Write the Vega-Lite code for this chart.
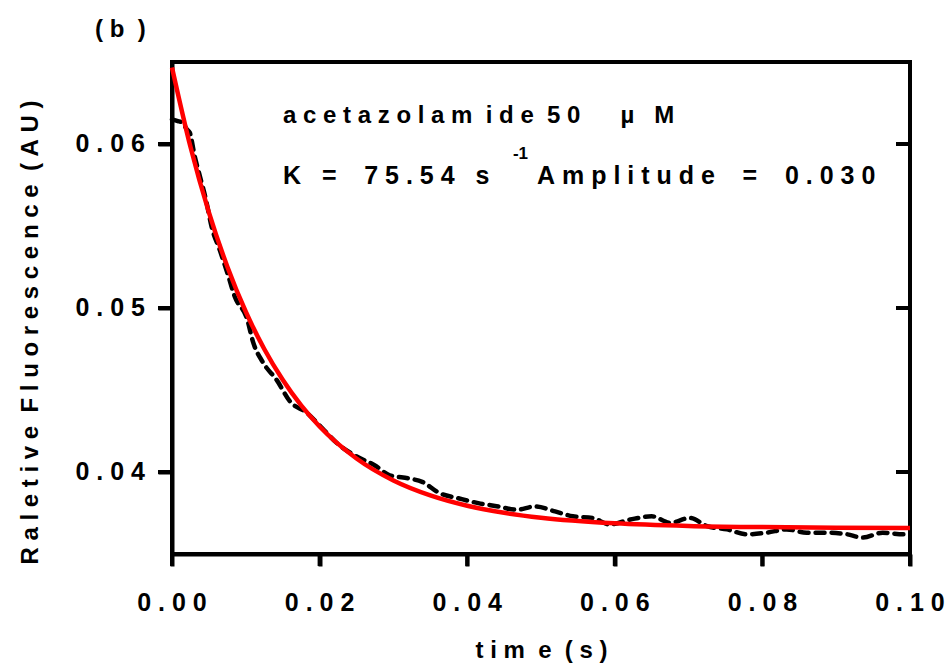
{
  "$schema": "https://vega.github.io/schema/vega-lite/v6.json",
  "width": 738,
  "height": 492,
  "autosize": {"type": "none"},
  "padding": {"left": 172, "top": 62, "right": 39, "bottom": 116},
  "background": "white",
  "config": {
    "view": {"stroke": "black", "strokeWidth": 4},
    "font": "Liberation Sans",
    "axis": {
      "grid": false,
      "ticks": true,
      "labels": false,
      "domain": true,
      "domainColor": "black",
      "domainWidth": 4,
      "tickColor": "black",
      "tickWidth": 4,
      "titleFont": "Liberation Sans",
      "titleFontWeight": "bold",
      "titleFontSize": 24,
      "titleColor": "black"
    }
  },
  "datasets": {
    "obs": [
      {"t": 0.0000, "v": 0.0615}, {"t": 0.0008, "v": 0.0614}, {"t": 0.0014, "v": 0.0613},
      {"t": 0.0020, "v": 0.0609}, {"t": 0.0024, "v": 0.0607}, {"t": 0.0031, "v": 0.0592},
      {"t": 0.0038, "v": 0.0580}, {"t": 0.0046, "v": 0.0566}, {"t": 0.0054, "v": 0.0549},
      {"t": 0.0065, "v": 0.0535}, {"t": 0.0076, "v": 0.0520}, {"t": 0.0085, "v": 0.0507},
      {"t": 0.0102, "v": 0.0493}, {"t": 0.0110, "v": 0.0479}, {"t": 0.0123, "v": 0.0467},
      {"t": 0.0142, "v": 0.0456}, {"t": 0.0160, "v": 0.0443}, {"t": 0.0183, "v": 0.0436},
      {"t": 0.0203, "v": 0.0427}, {"t": 0.0225, "v": 0.0417}, {"t": 0.0248, "v": 0.0410},
      {"t": 0.0275, "v": 0.0404}, {"t": 0.0295, "v": 0.0398}, {"t": 0.0322, "v": 0.0396},
      {"t": 0.0339, "v": 0.0394}, {"t": 0.0363, "v": 0.0387}, {"t": 0.0388, "v": 0.0384},
      {"t": 0.0415, "v": 0.0381}, {"t": 0.0442, "v": 0.0379}, {"t": 0.0467, "v": 0.0377},
      {"t": 0.0492, "v": 0.0379}, {"t": 0.0519, "v": 0.0376}, {"t": 0.0543, "v": 0.0373},
      {"t": 0.0570, "v": 0.0372}, {"t": 0.0593, "v": 0.0368}, {"t": 0.0621, "v": 0.0371},
      {"t": 0.0650, "v": 0.0373}, {"t": 0.0675, "v": 0.0369}, {"t": 0.0702, "v": 0.0372},
      {"t": 0.0725, "v": 0.0367}, {"t": 0.0752, "v": 0.0365}, {"t": 0.0779, "v": 0.0362},
      {"t": 0.0806, "v": 0.0363}, {"t": 0.0833, "v": 0.0365}, {"t": 0.0860, "v": 0.0363},
      {"t": 0.0888, "v": 0.0363}, {"t": 0.0915, "v": 0.0362}, {"t": 0.0936, "v": 0.0360},
      {"t": 0.0963, "v": 0.0363}, {"t": 0.0991, "v": 0.0362}, {"t": 0.1000, "v": 0.0362}
    ],
    "fit": [
      {"t": 0.0, "v": 0.06467}, {"t": 0.0025, "v": 0.05983}, {"t": 0.005, "v": 0.05583},
      {"t": 0.0075, "v": 0.05252}, {"t": 0.01, "v": 0.04977}, {"t": 0.0125, "v": 0.04750},
      {"t": 0.015, "v": 0.04562}, {"t": 0.0175, "v": 0.04406}, {"t": 0.02, "v": 0.04277},
      {"t": 0.025, "v": 0.04082}, {"t": 0.03, "v": 0.03948}, {"t": 0.035, "v": 0.03857},
      {"t": 0.04, "v": 0.03794}, {"t": 0.045, "v": 0.03751}, {"t": 0.05, "v": 0.03721},
      {"t": 0.06, "v": 0.03687}, {"t": 0.07, "v": 0.03671}, {"t": 0.08, "v": 0.03664},
      {"t": 0.09, "v": 0.03660}, {"t": 0.1, "v": 0.03658}
    ],
    "yticks": [
      {"v": 0.04, "label": "0\u00a0.\u00a00\u00a04"},
      {"v": 0.05, "label": "0\u00a0.\u00a00\u00a05"},
      {"v": 0.06, "label": "0\u00a0.\u00a00\u00a06"}
    ],
    "xticks": [
      {"t": 0, "label": "0\u00a0.\u00a00\u00a00"},
      {"t": 0.02, "label": "0\u00a0.\u00a00\u00a02"},
      {"t": 0.04, "label": "0\u00a0.\u00a00\u00a04"},
      {"t": 0.06, "label": "0\u00a0.\u00a00\u00a06"},
      {"t": 0.08, "label": "0\u00a0.\u00a00\u00a08"},
      {"t": 0.1, "label": "0\u00a0.\u00a01\u00a00"}
    ]
  },
  "layer": [
    {
      "data": {"name": "obs"},
      "mark": {"type": "line", "color": "black", "strokeWidth": 4.5, "strokeDash": [9, 7], "strokeCap": "round", "interpolate": "monotone"},
      "encoding": {
        "x": {"field": "t", "type": "quantitative", "scale": {"domain": [0, 0.1], "nice": false, "zero": false},
          "axis": {"orient": "bottom", "values": [0, 0.02, 0.04, 0.06, 0.08, 0.1], "ticks": true, "tickSize": 12,
            "title": "t\u00a0i\u00a0m\u00a0\u00a0e\u00a0\u00a0(\u00a0s\u00a0)", "titleY": 96, "titleBaseline": "middle"}},
        "y": {"field": "v", "type": "quantitative", "scale": {"domain": [0.035, 0.065], "nice": false, "zero": false},
          "axis": {"orient": "left", "values": [0.04, 0.05, 0.06], "ticks": true, "tickSize": 14,
            "title": "R\u00a0a\u00a0l\u00a0e\u00a0t\u00a0i\u00a0v\u00a0e\u00a0\u00a0F\u00a0l\u00a0u\u00a0o\u00a0r\u00a0e\u00a0s\u00a0c\u00a0e\u00a0n\u00a0c\u00a0e\u00a0\u00a0(\u00a0A\u00a0U\u00a0)",
            "titleX": -142, "titleY": 270, "titleAngle": 270, "titleAlign": "center", "titleBaseline": "middle"}}
      }
    },
    {
      "data": {"name": "fit"},
      "mark": {"type": "line", "color": "#ff0000", "strokeWidth": 4.5, "interpolate": "monotone"},
      "encoding": {
        "x": {"field": "t", "type": "quantitative"},
        "y": {"field": "v", "type": "quantitative"}
      }
    },
    {
      "data": {"name": "yticks"},
      "mark": {"type": "rule", "color": "black", "strokeWidth": 4},
      "encoding": {
        "x": {"datum": 0.1, "type": "quantitative"},
        "x2": {"datum": 0.0981},
        "y": {"field": "v", "type": "quantitative"}
      }
    },
    {
      "data": {"name": "yticks"},
      "mark": {"type": "rule", "color": "black", "strokeWidth": 4, "clip": false},
      "encoding": {
        "x": {"datum": 0, "type": "quantitative"},
        "x2": {"datum": -0.0019},
        "y": {"field": "v", "type": "quantitative"}
      }
    },
    {
      "data": {"name": "xticks"},
      "mark": {"type": "rule", "color": "black", "strokeWidth": 4, "clip": false},
      "encoding": {
        "x": {"field": "t", "type": "quantitative"},
        "y": {"datum": 0.035, "type": "quantitative"},
        "y2": {"datum": 0.03427}
      }
    },
    {
      "data": {"name": "yticks"},
      "mark": {"type": "text", "align": "right", "baseline": "middle", "fontSize": 25, "fontWeight": "bold", "font": "Liberation Sans", "color": "black"},
      "encoding": {
        "x": {"datum": -0.00366, "type": "quantitative"},
        "y": {"field": "v", "type": "quantitative"},
        "text": {"field": "label"}
      }
    },
    {
      "data": {"name": "xticks"},
      "mark": {"type": "text", "align": "center", "baseline": "middle", "fontSize": 25, "fontWeight": "bold", "font": "Liberation Sans", "color": "black"},
      "encoding": {
        "x": {"field": "t", "type": "quantitative"},
        "y": {"datum": 0.03201, "type": "quantitative"},
        "text": {"field": "label"}
      }
    },
    {
      "data": {"values": [{}]},
      "mark": {"type": "text", "align": "left", "baseline": "middle", "fontSize": 24, "fontWeight": "bold", "font": "Liberation Sans", "color": "black"},
      "encoding": {
        "x": {"datum": 0.01504, "type": "quantitative"},
        "y": {"datum": 0.06171, "type": "quantitative"},
        "text": {"value": "a\u00a0c\u00a0e\u00a0t\u00a0a\u00a0z\u00a0o\u00a0l\u00a0a\u00a0m\u00a0\u00a0i\u00a0d\u00a0e\u00a0\u00a05\u00a00\u00a0\u00a0\u00a0\u00a0\u00a0\u00a0µ\u00a0\u00a0\u00a0M"}
      }
    },
    {
      "data": {"values": [{}]},
      "mark": {"type": "text", "align": "left", "baseline": "middle", "fontSize": 25, "fontWeight": "bold", "font": "Liberation Sans", "color": "black"},
      "encoding": {
        "x": {"datum": 0.01504, "type": "quantitative"},
        "y": {"datum": 0.05805, "type": "quantitative"},
        "text": {"value": "K\u00a0\u00a0\u00a0=\u00a0\u00a0\u00a0\u00a07\u00a05\u00a0.\u00a05\u00a04\u00a0\u00a0\u00a0s"}
      }
    },
    {
      "data": {"values": [{}]},
      "mark": {"type": "text", "align": "left", "baseline": "middle", "fontSize": 17, "fontWeight": "bold", "font": "Liberation Sans", "color": "black"},
      "encoding": {
        "x": {"datum": 0.0462, "type": "quantitative"},
        "y": {"datum": 0.05940, "type": "quantitative"},
        "text": {"value": "-1"}
      }
    },
    {
      "data": {"values": [{}]},
      "mark": {"type": "text", "align": "left", "baseline": "middle", "fontSize": 25, "fontWeight": "bold", "font": "Liberation Sans", "color": "black"},
      "encoding": {
        "x": {"datum": 0.04946, "type": "quantitative"},
        "y": {"datum": 0.05805, "type": "quantitative"},
        "text": {"value": "A\u00a0m\u00a0p\u00a0l\u00a0i\u00a0t\u00a0u\u00a0d\u00a0e\u00a0\u00a0\u00a0\u00a0=\u00a0\u00a0\u00a0\u00a00\u00a0.\u00a00\u00a03\u00a00"}
      }
    },
    {
      "data": {"values": [{}]},
      "mark": {"type": "text", "align": "left", "baseline": "middle", "fontSize": 24, "fontWeight": "bold", "font": "Liberation Sans", "color": "black"},
      "encoding": {
        "x": {"datum": -0.01043, "type": "quantitative"},
        "y": {"datum": 0.06695, "type": "quantitative"},
        "text": {"value": "(\u00a0b\u00a0\u00a0)"}
      }
    }
  ]
}
